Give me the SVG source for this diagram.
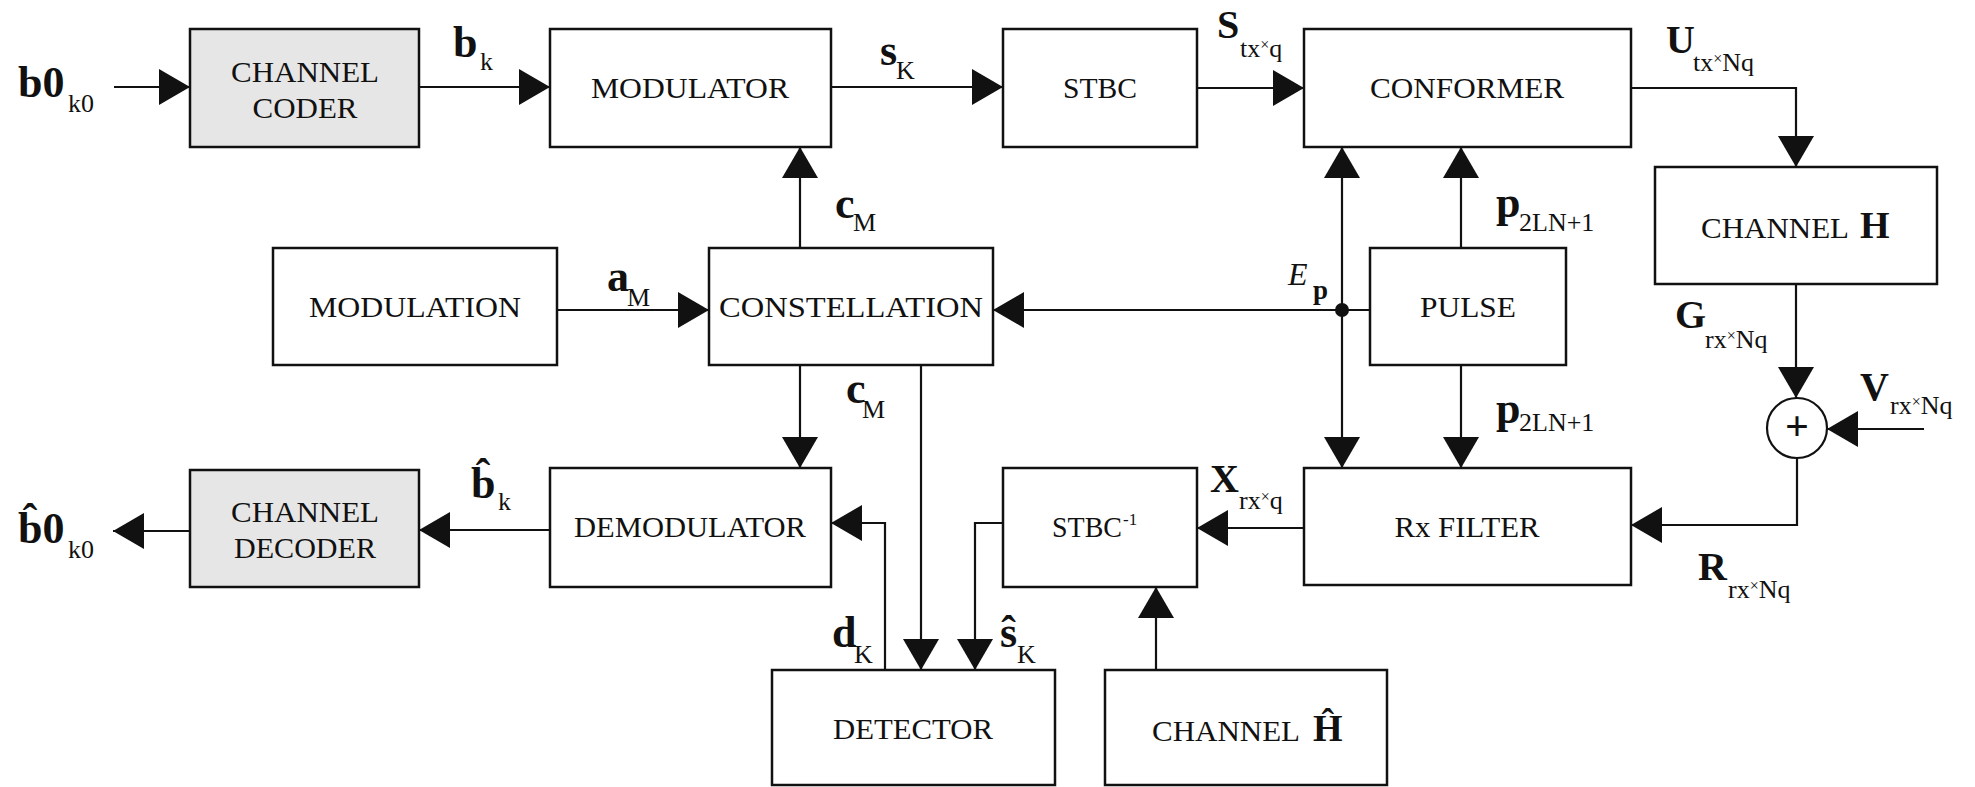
<svg xmlns="http://www.w3.org/2000/svg" width="1975" height="787" viewBox="0 0 1975 787">
  <defs>
    <marker id="arr" markerUnits="userSpaceOnUse" markerWidth="32" markerHeight="38" refX="31" refY="18" orient="auto">
      <path d="M0,0 L31,18 L0,36 Z" fill="#111"/>
    </marker>
  </defs>
  <style>
    .box{fill:#fff;stroke:#111;stroke-width:2.5}
    .gray{fill:#e6e6e6}
    .lbl{font-family:"Liberation Serif","Times New Roman",serif;font-size:29px;fill:#111;text-anchor:middle}
    .lbs{font-family:"Liberation Serif","Times New Roman",serif;font-size:29px;fill:#111}
    .sym{font-family:"Liberation Serif","Times New Roman",serif;font-weight:bold;font-size:40px;fill:#111}
    .big{font-size:44px}
    .sub{font-family:"Liberation Serif","Times New Roman",serif;font-size:26px;fill:#111}
    .tiny{font-size:16px}
    .it{font-family:"Liberation Serif","Times New Roman",serif;font-style:italic;font-size:32px;fill:#111}
    .wire{fill:none;stroke:#111;stroke-width:2.2}
    .arrow{marker-end:url(#arr)}
  </style>
  <rect width="1975" height="787" fill="#fff"/>

  <!-- processing blocks -->
  <g id="channel-coder">
    <rect class="box gray" x="190" y="29" width="229" height="118"/>
    <text class="lbl" x="305" y="82" textLength="148" lengthAdjust="spacingAndGlyphs">CHANNEL</text>
    <text class="lbl" x="305" y="118" textLength="105" lengthAdjust="spacingAndGlyphs">CODER</text>
  </g>
  <g id="modulator">
    <rect class="box" x="550" y="29" width="281" height="118"/>
    <text class="lbl" x="690" y="98" textLength="198" lengthAdjust="spacingAndGlyphs">MODULATOR</text>
  </g>
  <g id="stbc">
    <rect class="box" x="1003" y="29" width="194" height="118"/>
    <text class="lbl" x="1100" y="98" textLength="74" lengthAdjust="spacingAndGlyphs">STBC</text>
  </g>
  <g id="conformer">
    <rect class="box" x="1304" y="29" width="327" height="118"/>
    <text class="lbl" x="1467" y="98" textLength="194" lengthAdjust="spacingAndGlyphs">CONFORMER</text>
  </g>
  <g id="channel-h">
    <rect class="box" x="1655" y="167" width="282" height="117"/>
    <text class="lbs" x="1701" y="238" textLength="148" lengthAdjust="spacingAndGlyphs">CHANNEL</text>
    <text class="sym" x="1860" y="238" style="font-size:38px">H</text>
  </g>
  <g id="modulation">
    <rect class="box" x="273" y="248" width="284" height="117"/>
    <text class="lbl" x="415" y="317" textLength="212" lengthAdjust="spacingAndGlyphs">MODULATION</text>
  </g>
  <g id="constellation">
    <rect class="box" x="709" y="248" width="284" height="117"/>
    <text class="lbl" x="851" y="317" textLength="264" lengthAdjust="spacingAndGlyphs">CONSTELLATION</text>
  </g>
  <g id="pulse">
    <rect class="box" x="1370" y="248" width="196" height="117"/>
    <text class="lbl" x="1468" y="317" textLength="96" lengthAdjust="spacingAndGlyphs">PULSE</text>
  </g>
  <g id="sum">
    <circle cx="1797" cy="428" r="30" fill="#fff" stroke="#111" stroke-width="2.2"/>
    <text class="sym" x="1797" y="440" text-anchor="middle" style="font-size:42px">+</text>
  </g>
  <g id="rx-filter">
    <rect class="box" x="1304" y="468" width="327" height="117"/>
    <text class="lbl" x="1467" y="537" textLength="145" lengthAdjust="spacingAndGlyphs">Rx FILTER</text>
  </g>
  <g id="stbc-inv">
    <rect class="box" x="1003" y="468" width="194" height="119"/>
    <text class="lbs" x="1052" y="537" textLength="70" lengthAdjust="spacingAndGlyphs">STBC</text>
    <text class="lbs" x="1123" y="525" style="font-size:17px">-1</text>
  </g>
  <g id="demodulator">
    <rect class="box" x="550" y="468" width="281" height="119"/>
    <text class="lbl" x="690" y="537" textLength="232" lengthAdjust="spacingAndGlyphs">DEMODULATOR</text>
  </g>
  <g id="channel-decoder">
    <rect class="box gray" x="190" y="470" width="229" height="117"/>
    <text class="lbl" x="305" y="522" textLength="148" lengthAdjust="spacingAndGlyphs">CHANNEL</text>
    <text class="lbl" x="305" y="558" textLength="142" lengthAdjust="spacingAndGlyphs">DECODER</text>
  </g>
  <g id="detector">
    <rect class="box" x="772" y="670" width="283" height="115"/>
    <text class="lbl" x="913" y="739" textLength="160" lengthAdjust="spacingAndGlyphs">DETECTOR</text>
  </g>
  <g id="channel-h-est">
    <rect class="box" x="1105" y="670" width="282" height="115"/>
    <text class="lbs" x="1152" y="741" textLength="148" lengthAdjust="spacingAndGlyphs">CHANNEL</text>
    <text class="sym" x="1313" y="741" style="font-size:38px">Ĥ</text>
  </g>

  <!-- signal paths -->
  <g id="connectors">
    <path class="wire arrow" d="M114,87 H190"/>
    <path class="wire arrow" d="M419,87 H550"/>
    <path class="wire arrow" d="M831,87 H1003"/>
    <path class="wire arrow" d="M1197,88 H1304"/>
    <path class="wire arrow" d="M1631,88 H1796 V167"/>
    <path class="wire arrow" d="M1796,284 V398"/>
    <path class="wire arrow" d="M1924,429 H1827"/>
    <path class="wire arrow" d="M1797,458 V525 H1631"/>
    <path class="wire arrow" d="M1304,528 H1197"/>
    <path class="wire arrow" d="M1003,523 H975 V670"/>
    <path class="wire arrow" d="M885,670 V523 H831"/>
    <path class="wire arrow" d="M921,365 V670"/>
    <path class="wire arrow" d="M800,365 V468"/>
    <path class="wire arrow" d="M800,248 V147"/>
    <path class="wire arrow" d="M557,310 H709"/>
    <path class="wire arrow" d="M1370,310 H993"/>
    <path class="wire arrow" d="M1342,310 V147"/>
    <path class="wire arrow" d="M1342,310 V468"/>
    <path class="wire arrow" d="M1461,248 V147"/>
    <path class="wire arrow" d="M1461,365 V468"/>
    <path class="wire arrow" d="M1156,670 V587"/>
    <path class="wire arrow" d="M550,530 H419"/>
    <path class="wire arrow" d="M190,531 H113"/>
    <circle cx="1342" cy="310" r="7" fill="#111"/>
  </g>

  <!-- signal names -->
  <g id="signal-labels">
    <text class="sym big" x="18" y="97">b0</text>
    <text class="sub" x="68" y="112">k0</text>

    <text class="sym big" x="453" y="57">b</text>
    <text class="sub" x="480" y="70">k</text>

    <text class="sym big" x="880" y="65">s</text>
    <text class="sub" x="896" y="79">K</text>

    <text class="sym" x="1217" y="38">S</text>
    <text class="sub" x="1240" y="57">tx<tspan class="tiny" baseline-shift="7">×</tspan>q</text>

    <text class="sym" x="1666" y="53">U</text>
    <text class="sub" x="1693" y="71">tx<tspan class="tiny" baseline-shift="7">×</tspan>Nq</text>

    <text class="sym big" x="835" y="218">c</text>
    <text class="sub" x="853" y="231">M</text>

    <text class="sym big" x="607" y="291">a</text>
    <text class="sub" x="627" y="306">M</text>

    <text class="it" x="1288" y="285">E</text>
    <text class="sym" x="1313" y="299" style="font-size:27px">p</text>

    <text class="sym big" x="1496" y="217">p</text>
    <text class="sub" x="1519" y="231">2LN+1</text>

    <text class="sym" x="1675" y="328">G</text>
    <text class="sub" x="1705" y="348">rx<tspan class="tiny" baseline-shift="7">×</tspan>Nq</text>

    <text class="sym" x="1860" y="400">V</text>
    <text class="sub" x="1890" y="414">rx<tspan class="tiny" baseline-shift="7">×</tspan>Nq</text>

    <text class="sym big" x="846" y="403">c</text>
    <text class="sub" x="862" y="418">M</text>

    <text class="sym big" x="1496" y="423">p</text>
    <text class="sub" x="1519" y="431">2LN+1</text>

    <text class="sym" x="1210" y="492">X</text>
    <text class="sub" x="1239" y="509">rx<tspan class="tiny" baseline-shift="7">×</tspan>q</text>

    <text class="sym" x="1698" y="580">R</text>
    <text class="sub" x="1728" y="598">rx<tspan class="tiny" baseline-shift="7">×</tspan>Nq</text>

    <text class="sym big" x="471" y="498">b̂</text>
    <text class="sub" x="498" y="510">k</text>

    <text class="sym big" x="18" y="543">b̂0</text>
    <text class="sub" x="68" y="558">k0</text>

    <text class="sym big" x="832" y="647">d</text>
    <text class="sub" x="854" y="663">K</text>

    <text class="sym big" x="1000" y="647">ŝ</text>
    <text class="sub" x="1017" y="663">K</text>
  </g>
</svg>
